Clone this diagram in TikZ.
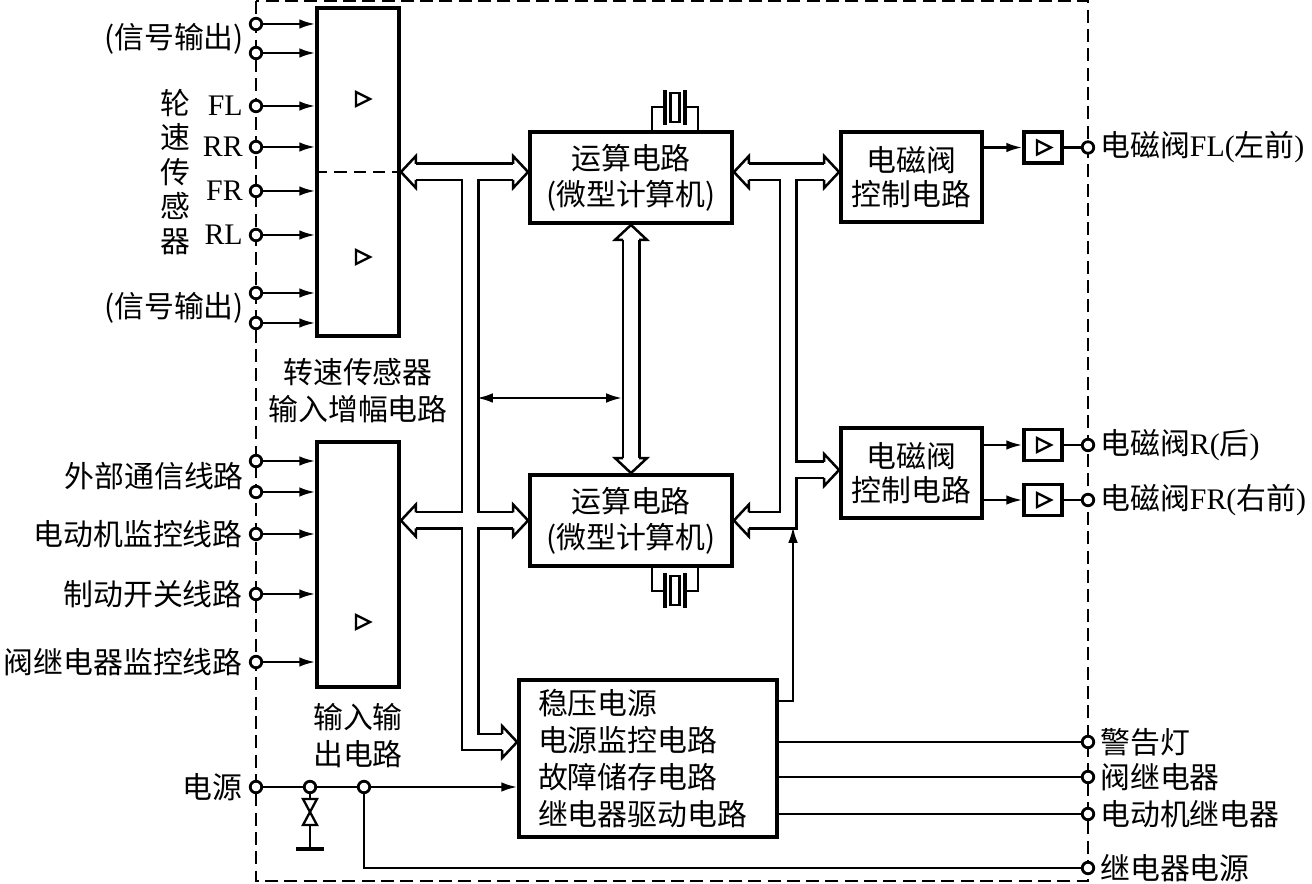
\documentclass[tikz,border=0pt]{standalone}
\usepackage{fontspec}
\setmainfont{Noto Sans CJK SC}
\newfontfamily\lat{Liberation Serif}
\usetikzlibrary{arrows.meta,calc,positioning}

\begin{document}
\begin{tikzpicture}
    [x=0.02cm,y=-0.02cm,font=\fontsize{17}{20.5}\selectfont,line width=1.3pt,
    >={Latex[length=9pt,width=5.5pt]},
    block/.style={draw,line width=2.2pt,align=center,inner sep=0pt},
    drv/.style={draw,line width=2.2pt,minimum width=0.76cm,minimum height=0.62cm,inner sep=0pt},
    term/.style={circle,draw,line width=1.6pt,fill=white,minimum size=0.23cm,inner sep=0pt},
    lbl/.style={inner sep=0pt},
    busline/.style={line width=0.38cm},
    busfill/.style={white,line width=0.28cm},
    pics/bushead/.style={code={\filldraw[fill=white,line width=0.05cm,line join=miter]
      (-15,8) -- (-15,16) -- (0,0) -- (-15,-16) -- (-15,-8);}},
    pics/ampmark/.style={code={\draw (-6,-7) -- (8,0) -- (-6,7) -- cycle;}},
    pics/xtal/.style={code={
      \draw (-23,0) -- (-23,-23) -- (-10,-23) (10,-23) -- (23,-23) -- (23,0);
      \draw[line width=0.08cm] (-10,-5) -- (-10,-40) (10,-5) -- (10,-40);
      \draw (-4.5,-8) rectangle (4.5,-37);}}]

    \useasboundingbox (0,0) rectangle (1312,884);
    \draw[dash pattern=on 7.4pt off 3.6pt] (256,1) rectangle (1088,881);

    % blocks
    \node[block,minimum width=1.64cm,minimum height=6.56cm] (speedin) at (358,172) {};
    \draw[dash pattern=on 7pt off 4pt] (speedin.west) -- (speedin.east);
    \pic at (362,99) {ampmark};
    \pic at (362,257) {ampmark};
    \node[lbl,align=center,font=\fontsize{17}{21}\selectfont,below=0.38cm of speedin] (spdlbl)
    {转速传感器\\输入增幅电路};
    \node[block,minimum width=1.64cm,minimum height=4.9cm] (iobox) at (358,564.5) {};
    \pic at (362,622) {ampmark};
    \node[lbl,align=center,font=\fontsize{17}{21}\selectfont,below=0.26cm of iobox] (iolbl)
    {输入输\\出电路};

    \node[block,minimum width=4.04cm,minimum height=1.82cm] (cpuA) at (631,177.5)
    {运算电路\\(微型计算机)};
    \node[block,minimum width=4.04cm,minimum height=1.82cm] (cpuB) at (631,520.5)
    {运算电路\\(微型计算机)};
    \pic at ($(cpuA.north)+(44,0)$) {xtal};
    \pic[yscale=-1] at ($(cpuB.south)+(44,0)$) {xtal};

    \node[block,minimum width=2.82cm,minimum height=1.8cm,font=\fontsize{17}{19}\selectfont]
    (svA) at (911.5,177) {电磁阀\\控制电路};
    \node[block,minimum width=2.82cm,minimum height=1.8cm,font=\fontsize{17}{19}\selectfont]
    (svB) at (911.5,473) {电磁阀\\控制电路};
    \node[drv] (drvA) at (1043,147.5) {};
    \node[drv] (drvB) at (1043,445) {};
    \node[drv] (drvC) at (1043,500) {};
    \pic at (drvA) {ampmark};
    \pic at (drvB) {ampmark};
    \pic at (drvC) {ampmark};

    \node[block,minimum width=5.16cm,minimum height=3.14cm,text width=4.4cm,align=left,
    font=\fontsize{17}{21.2}\selectfont] (pwr) at (648,758.5)
    {稳压电源\\电源监控电路\\故障储存电路\\继电器驱动电路};

    % terminals left
    \node[term] (tSigA) at (256,24) {};
    \node[term] (tSigB) at (256,53) {};
    \node[term] (tFL) at (256,106) {};
    \node[term] (tRR) at (256,147) {};
    \node[term] (tFR) at (256,191) {};
    \node[term] (tRL) at (256,235) {};
    \node[term] (tSigC) at (256,293) {};
    \node[term] (tSigD) at (256,323) {};
    \node[term] (tComA) at (256,461) {};
    \node[term] (tComB) at (256,492) {};
    \node[term] (tMot) at (256,534) {};
    \node[term] (tBrk) at (256,594) {};
    \node[term] (tVlv) at (256,662) {};
    \node[term] (tPwr) at (256,787) {};
    \node[term] (jA) at (310,787) {};
    \node[term] (jB) at (364,787) {};

    % terminals right
    \node[term] (oFL) at (1088,147.5) {};
    \node[term] (oR) at (1088,445) {};
    \node[term] (oFR) at (1088,500) {};
    \node[term] (oLamp) at (1088,742) {};
    \node[term] (oVrly) at (1088,777) {};
    \node[term] (oMrly) at (1088,814) {};
    \node[term] (oRpwr) at (1088,868) {};

    % labels
    \node[lbl,anchor=east] (lSigA) at ($(tSigA)!0.5!(tSigB)+(-11,0)$) {(信号输出)};
    \node[lbl,anchor=east] (lSigB) at ($(tSigC)!0.5!(tSigD)+(-11,0)$) {(信号输出)};
    \node[lbl,left=0.1cm of tFL] (lFL) {\lat FL};
    \node[lbl,left=0.1cm of tRR] (lRR) {\lat RR};
    \node[lbl,left=0.1cm of tFR] (lFR) {\lat FR};
    \node[lbl,left=0.1cm of tRL] (lRL) {\lat RL};
    \node[lbl,align=center,font=\fontsize{17}{19.6}\selectfont] (wheel) at (175,172)
    {轮\\速\\传\\感\\器};
    \node[lbl,anchor=east] (lCom) at ($(tComA)!0.5!(tComB)+(-11,0)$) {外部通信线路};
    \node[lbl,left=0.1cm of tMot] (lMot) {电动机监控线路};
    \node[lbl,left=0.1cm of tBrk] (lBrk) {制动开关线路};
    \node[lbl,left=0.1cm of tVlv] (lVlv) {阀继电器监控线路};
    \node[lbl,left=0.1cm of tPwr] (lPwr) {电源};
    \node[lbl,right=0.08cm of oFL] (rFL) {电磁阀{\lat FL(}左前{\lat )}};
    \node[lbl,right=0.08cm of oR] (rR) {电磁阀{\lat R(}后{\lat )}};
    \node[lbl,right=0.08cm of oFR] (rFR) {电磁阀{\lat FR(}右前{\lat )}};
    \node[lbl,right=0.08cm of oLamp] (rLamp) {警告灯};
    \node[lbl,right=0.08cm of oVrly] (rVrly) {阀继电器};
    \node[lbl,right=0.08cm of oMrly] (rMrly) {电动机继电器};
    \node[lbl,right=0.08cm of oRpwr] (rRpwr) {继电器电源};

    % inputs
    \draw[->] (tSigA) -- (tSigA -| speedin.west);
    \draw[->] (tSigB) -- (tSigB -| speedin.west);
    \draw[->] (tFL) -- (tFL -| speedin.west);
    \draw[->] (tRR) -- (tRR -| speedin.west);
    \draw[->] (tFR) -- (tFR -| speedin.west);
    \draw[->] (tRL) -- (tRL -| speedin.west);
    \draw[->] (tSigC) -- (tSigC -| speedin.west);
    \draw[->] (tSigD) -- (tSigD -| speedin.west);
    \draw[->] (tComA) -- (tComA -| iobox.west);
    \draw[->] (tComB) -- (tComB -| iobox.west);
    \draw[->] (tMot) -- (tMot -| iobox.west);
    \draw[->] (tBrk) -- (tBrk -| iobox.west);
    \draw[->] (tVlv) -- (tVlv -| iobox.west);

    % outputs
    \draw[->] (svA.east |- drvA) -- (drvA);
    \draw (drvA) -- (oFL);
    \draw[->] (svB.east |- drvB) -- (drvB);
    \draw (drvB) -- (oR);
    \draw[->] (svB.east |- drvC) -- (drvC);
    \draw (drvC) -- (oFR);
    \draw (pwr.east |- oLamp) -- (oLamp);
    \draw (pwr.east |- oVrly) -- (oVrly);
    \draw (pwr.east |- oMrly) -- (oMrly);

    % supply
    \draw (tPwr) -- (jA);
    \draw (jA) -- (jB);
    \draw[->] (jB) -- (pwr.west |- jB);
    \draw (jB) |- (oRpwr);
    \coordinate (tvs) at (310,812);
    \draw (jA) -- ($(tvs)+(0,-13)$);
    \draw ($(tvs)+(-7,-13)$) -- ($(tvs)+(7,-13)$) -- (tvs) -- cycle;
    \draw (tvs) -- ($(tvs)+(-7,13)$) -- ($(tvs)+(7,13)$) -- cycle;
    \draw ($(tvs)+(0,13)$) -- ($(tvs)+(0,37)$);
    \draw[line width=0.08cm] ($(tvs)+(-14,37)$) -- ($(tvs)+(14,37)$);

    % buses
    \coordinate (hA) at (speedin.east);
    \coordinate (hB) at (cpuA.west |- hA);
    \coordinate (hC) at (iobox.east |- cpuB.west);
    \coordinate (hD) at (cpuB.west);
    \coordinate (hE) at (pwr.west |- 0,742);
    \coordinate (hF) at (cpuA.south);
    \coordinate (hG) at (cpuB.north);
    \coordinate (hH) at (cpuA.east |- hA);
    \coordinate (hI) at (svA.west |- hA);
    \coordinate (hJ) at (cpuB.east);
    \coordinate (hK) at (svB.west |- 0,470);
    \coordinate (busL) at (470,172);
    \coordinate (busR) at (788,172);
    \foreach \layer in {busline,busfill} {
      \draw[\layer] ($(hA)+(15,0)$) -- ($(hB)-(15,0)$);
      \draw[\layer] ($(hC)+(15,0)$) -- ($(hD)-(15,0)$);
      \draw[\layer] (busL) |- ($(hE)-(15,0)$);
      \draw[\layer] ($(hF)+(0,15)$) -- ($(hG)-(0,15)$);
      \draw[\layer] ($(hH)+(15,0)$) -- ($(hI)-(15,0)$);
      \draw[\layer] (busR) |- ($(hJ)+(15,0)$);
      \draw[\layer] (busR |- hK) -- ($(hK)-(15,0)$);
    }
    \pic[rotate=180] at (hA) {bushead};
    \pic at (hB) {bushead};
    \pic[rotate=180] at (hC) {bushead};
    \pic at (hD) {bushead};
    \pic at (hE) {bushead};
    \pic[rotate=90] at (hF) {bushead};
    \pic[rotate=-90] at (hG) {bushead};
    \pic[rotate=180] at (hH) {bushead};
    \pic at (hI) {bushead};
    \pic[rotate=180] at (hJ) {bushead};
    \pic at (hK) {bushead};

    \coordinate (thinL) at (477,398);
    \coordinate (thinR) at (622,398);
    \draw[<->] (thinL) -- (thinR);
    \coordinate (busJ) at (793,527);
    \draw[->] ($(pwr.north east)+(0,23)$) -| (busJ);
  \end{tikzpicture}
\end{document}
